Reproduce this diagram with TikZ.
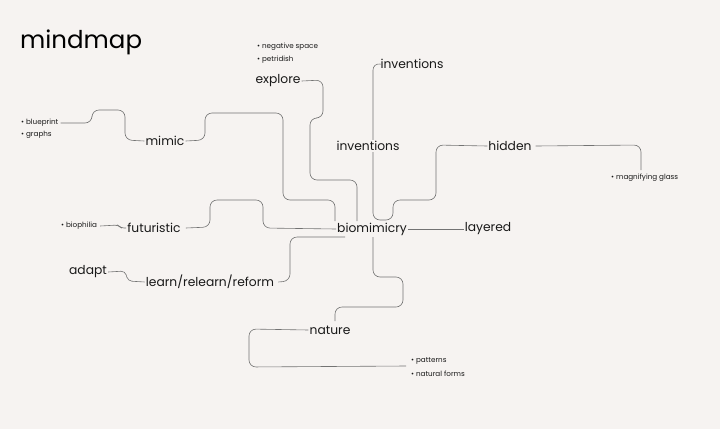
\documentclass[tikz,border=0pt]{standalone}
\usepackage{fontspec}
\setmainfont{Poppins}
\begin{document}
\begin{tikzpicture}[x=1pt,y=-1pt,
  lbl/.style={inner sep=1pt,font=\fontsize{12.3}{14}\selectfont,text=black!90},
  sml/.style={inner sep=0pt,anchor=west,font=\fontsize{7.2}{8}\selectfont,text=black!90},
  cn/.style={draw=black!55,line width=0.6pt,rounded corners=7pt}]
\fill[fill={rgb,255:red,246;green,243;blue,241}] (0,0) rectangle (720,429);
\useasboundingbox (0,0) rectangle (720,429);
\node[anchor=west,inner sep=0pt,font=\fontsize{24.5}{28}\selectfont] (title) at (20,42) {mindmap};
% main nodes
\node[lbl] (bio) at (372,229) {biomimicry};
\node[lbl] (explore) at (278,81) {explore};
\node[lbl] (inv1) at (412,64) {inventions};
\node[lbl] (hidden) at (510,146) {hidden};
\node[lbl] (mimic) at (165,141) {mimic};
\node[lbl] (fut) at (154,228) {futuristic};
\node[lbl] (layered) at (488,229) {layered};
\node[lbl] (adapt) at (88,272) {adapt};
\node[lbl] (learn) at (210,282) {learn/relearn/reform};
\node[lbl] (nature) at (330,330) {nature};
% small
\node[sml] (ns) at (257,47) {• negative space};
\node[sml] (pd) at (257,60) {• petridish};
\node[sml] (bp) at (21,123) {• blueprint};
\node[sml] (gr) at (21,135) {• graphs};
\node[sml] (bph) at (61,226) {• biophilia};
\node[sml] (mg) at (611,178) {• magnifying glass};
\node[sml] (pat) at (411,361) {• patterns};
\node[sml] (nf) at (411,374) {• natural forms};
\coordinate (j1) at (373,220);
\coordinate (mgt) at (641,170);
\coordinate (natend) at (406,366);
\coordinate (learnend) at (345,237);
\coordinate (mimend) at (335,221);
\coordinate (expend) at (357,221);
\coordinate (bioB) at (373,237);
\coordinate (natT) at (335,321);
% connectors
\draw[cn] (explore.east) -- (323,80) -- (323,118) -- (310,118) -- (310,180) -- (357,180) -- (expend);
\draw[cn] (inv1.west) -- (373,63) -- (373,220) -- (393,220) -- (393,200) -- (436,200) -- (436,145) -- (hidden.west);
\draw[cn] (mimic.east) -- (205,140) -- (205,113) -- (283,113) -- (283,200) -- (335,200) -- (mimend);
\draw[cn] (bp.east) ++(2,0) -- (92,123) -- (92,110) -- (125,110) -- (125,140) -- (mimic.west);
\draw[cn] (fut.east) ++(4,0) -- (210,227) -- (210,200) -- (263,200) -- (263,228) -- (bio.west);
\draw[cn,rounded corners=3pt] (bph.east) ++(3,0) -- (118,225) -- (121,228) -- (fut.west);
\draw[cn] (learn.east) ++(3,0) -- (290,281) -- (290,237) -- (learnend);
\draw[cn,rounded corners=4pt] (adapt.east) -- (125,271) -- (128,281) -- (learn.west);
\draw[cn] (bioB) -- (373,277) -- (403,277) -- (403,307) -- (335,307) -- (natT);
\draw[cn] (nature.west) -- (249,329) -- (249,367) -- (natend);
\draw[cn] (hidden.east) ++(3,0) -- (641,145) -- (mgt);
\draw[cn] (bio.east) -- (layered.west);
\node[lbl,fill={rgb,255:red,246;green,243;blue,241}] (inv2) at (368,146) {inventions};
\end{tikzpicture}
\end{document}
